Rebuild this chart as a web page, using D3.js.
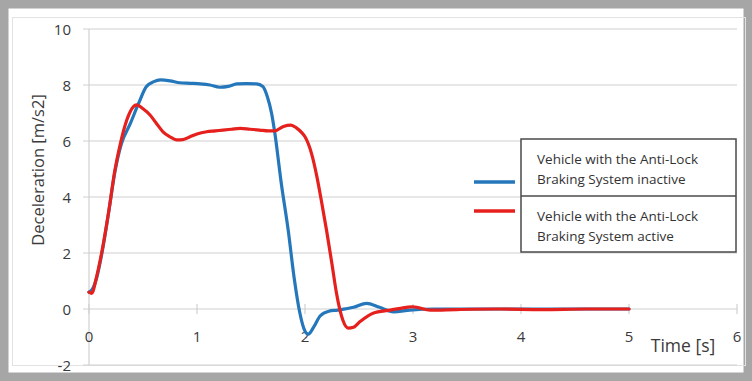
<!DOCTYPE html>
<html>
<head>
<meta charset="utf-8">
<script src="https://cdn.jsdelivr.net/npm/d3@7"></script>
<style>
  body { margin: 0; background: #fff; }
  svg { display: block; font-family: "Open Sans", "DejaVu Sans", sans-serif; }
</style>
</head>
<body>
<svg id="chart" width="752" height="381"></svg>
<script>
"use strict";

// time [s] / deceleration [m/s2]
const inactiveT = [0, 0.03, 0.07, 0.12, 0.18, 0.24, 0.3, 0.38, 0.46, 0.53, 0.6, 0.66, 0.75, 0.84, 0.94, 1.03, 1.12, 1.21, 1.29, 1.37, 1.46, 1.55, 1.61, 1.65, 1.69, 1.72, 1.78, 1.845, 1.9, 1.95, 1.99, 2.03, 2.08, 2.14, 2.22, 2.3, 2.45, 2.57, 2.69, 2.82, 2.97, 3.2, 3.5, 4, 4.5, 5];
const inactiveV = [0.6, 0.7, 1.1, 2.0, 3.4, 4.9, 5.9, 6.6, 7.35, 7.94, 8.12, 8.18, 8.15, 8.08, 8.06, 8.04, 8.0, 7.92, 7.95, 8.04, 8.05, 8.04, 7.95, 7.6, 7.0, 6.3, 4.5, 2.8, 1.1, -0.1, -0.7, -0.9, -0.65, -0.25, -0.08, -0.04, 0.06, 0.2, 0.06, -0.1, -0.04, 0, 0, 0, 0, 0];

const activeT = [0, 0.025, 0.07, 0.117, 0.18, 0.24, 0.29, 0.35, 0.44, 0.5, 0.565, 0.62, 0.685, 0.75, 0.81, 0.87, 0.935, 1.0, 1.09, 1.17, 1.24, 1.32, 1.4, 1.49, 1.58, 1.66, 1.72, 1.8, 1.87, 1.92, 1.97, 2.0, 2.06, 2.11, 2.15, 2.2, 2.25, 2.29, 2.35, 2.4, 2.45, 2.51, 2.63, 2.79, 2.94, 3.0, 3.16, 3.4, 3.8, 4.2, 4.6, 5];
const activeV = [0.6, 0.56, 1.15, 2.0, 3.42, 4.96, 5.9, 6.75, 7.29, 7.15, 6.93, 6.65, 6.33, 6.15, 6.04, 6.05, 6.15, 6.25, 6.33, 6.36, 6.39, 6.42, 6.45, 6.42, 6.39, 6.36, 6.36, 6.52, 6.57, 6.47, 6.3, 6.15, 5.56, 4.73, 3.9, 2.8, 1.6, 0.6, -0.39, -0.68, -0.65, -0.45, -0.15, -0.04, 0.06, 0.08, -0.04, -0.02, 0, -0.02, 0, 0];

const xTicks = [0, 1, 2, 3, 4, 5, 6];
const yTicks = [-2, 0, 2, 4, 6, 8, 10];
const legendLabels = [
  ["Vehicle with the Anti-Lock", "Braking System inactive"],
  ["Vehicle with the Anti-Lock", "Braking System active"]
];
const colors = ["#2477bb", "#e5201d"];

const svg = d3.select("#chart");

// gray picture frame
svg.append("rect")
  .attr("x", 4).attr("y", 4).attr("width", 744).attr("height", 373)
  .attr("fill", "#fff").attr("stroke", "#a6a6a6").attr("stroke-width", 9);

// faint chart area border
svg.append("rect")
  .attr("x", 12.5).attr("y", 17.5).attr("width", 733).attr("height", 348)
  .attr("fill", "none").attr("stroke", "#e2e2e2").attr("stroke-width", 1);

const x = d3.scaleLinear().domain([0, 6]).range([89, 737]);
const y = d3.scaleLinear().domain([-2, 10]).range([365, 29]);

// horizontal gridlines
svg.append("g")
  .selectAll("line")
  .data(yTicks)
  .enter()
  .append("line")
  .attr("x1", x(0) - 6).attr("x2", x(6))
  .attr("y1", (d) => y(d)).attr("y2", (d) => y(d))
  .attr("stroke", "#d0d0d0").attr("stroke-width", 1.2);

// y axis line
svg.append("line")
  .attr("x1", x(0)).attr("x2", x(0))
  .attr("y1", y(-2)).attr("y2", y(10))
  .attr("stroke", "#d0d0d0").attr("stroke-width", 1.2);

// x ticks on the zero line
svg.append("g")
  .selectAll("line")
  .data(xTicks)
  .enter()
  .append("line")
  .attr("x1", (d) => x(d)).attr("x2", (d) => x(d))
  .attr("y1", y(0) - 5).attr("y2", y(0) + 5)
  .attr("stroke", "#d0d0d0").attr("stroke-width", 1.2);

// y tick labels
svg.append("g")
  .selectAll("text")
  .data(yTicks)
  .enter()
  .append("text")
  .attr("x", 71)
  .attr("y", (d) => y(d) + 5.5)
  .attr("text-anchor", "end")
  .attr("font-size", 15)
  .attr("fill", "#3a3a3a")
  .text((d) => d);

// x tick labels
svg.append("g")
  .selectAll("text")
  .data(xTicks)
  .enter()
  .append("text")
  .attr("x", (d) => x(d))
  .attr("y", y(0) + 33)
  .attr("text-anchor", "middle")
  .attr("font-size", 15)
  .attr("fill", "#3a3a3a")
  .text((d) => d);

// axis titles
svg.append("text")
  .attr("x", 683).attr("y", 352)
  .attr("text-anchor", "middle")
  .attr("font-size", 17.5)
  .attr("fill", "#3a3a3a")
  .text("Time [s]");

svg.append("text")
  .attr("transform", "translate(44,170) rotate(-90)")
  .attr("text-anchor", "middle")
  .attr("font-size", 16.5)
  .attr("fill", "#3a3a3a")
  .text("Deceleration [m/s2]");

// curves
const line = d3.line()
  .x((d) => x(d[0]))
  .y((d) => y(d[1]))
  .curve(d3.curveMonotoneX);

const series = [
  d3.zip(inactiveT, inactiveV),
  d3.zip(activeT, activeV)
];

svg.append("g")
  .selectAll("path")
  .data(series)
  .enter()
  .append("path")
  .attr("d", line)
  .attr("fill", "none")
  .attr("stroke", (d, i) => colors[i])
  .attr("stroke-width", 3.2)
  .attr("stroke-linejoin", "round")
  .attr("stroke-linecap", "round");

// legend
const lg = svg.append("g");
lg.append("rect")
  .attr("x", 521).attr("y", 139).attr("width", 215).attr("height", 113)
  .attr("fill", "#fff").attr("stroke", "#4a4a4a").attr("stroke-width", 1.5);
lg.append("line")
  .attr("x1", 521).attr("x2", 736).attr("y1", 196).attr("y2", 196)
  .attr("stroke", "#4a4a4a").attr("stroke-width", 1.5);

const legendRows = [182, 211];
lg.selectAll("line.key")
  .data(legendRows)
  .enter()
  .append("line")
  .attr("class", "key")
  .attr("x1", 474).attr("x2", 515)
  .attr("y1", (d) => d).attr("y2", (d) => d)
  .attr("stroke", (d, i) => colors[i])
  .attr("stroke-width", 3.5);

legendLabels.forEach((lines, i) => {
  lines.forEach((t, j) => {
    lg.append("text")
      .attr("x", 537)
      .attr("y", 164 + i * 57 + j * 20)
      .attr("font-size", 13.5)
      .attr("fill", "#333")
      .text(t);
  });
});
</script>
</body>
</html>
